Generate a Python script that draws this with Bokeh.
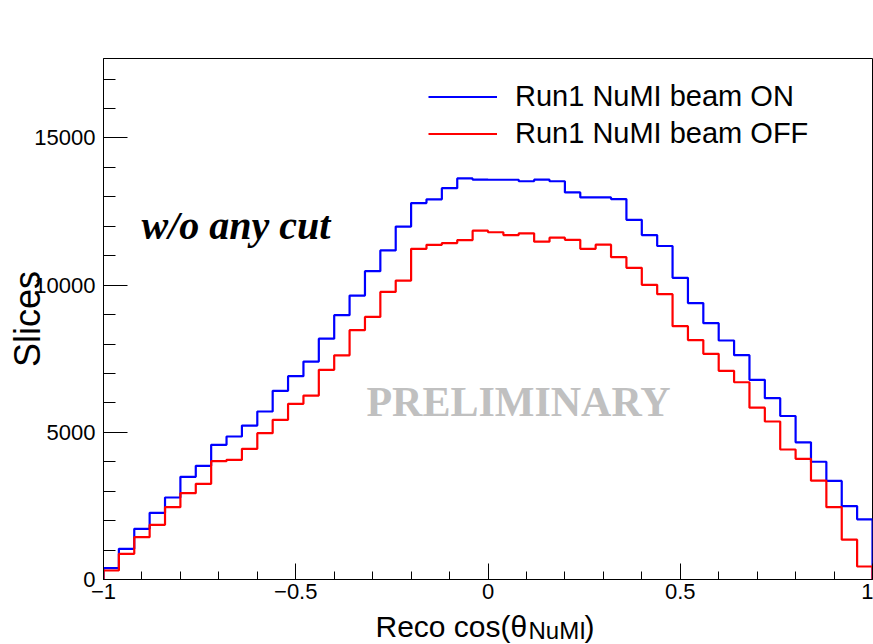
import numpy as np
from bokeh.plotting import figure
from bokeh.layouts import column
from bokeh.models import FixedTicker, Label, Legend, LegendItem, Range1d
from bokeh.core.properties import value
from bokeh.embed import file_html
from bokeh.resources import INLINE

# ---- data -------------------------------------------------------------
x_min, x_max, n_bins = -1.0, 1.0, 50

beam_on = [384, 1042, 1722, 2265, 2786, 3488, 3862, 4575, 4858, 5231,
           5707, 6410, 6906, 7405, 8180, 8980, 9647, 10475, 11180, 11991,
           12790, 12915, 13293, 13627, 13585, 13580, 13580, 13530, 13585, 13530,
           13150, 12980, 12980, 12925, 12219, 11700, 11330, 10249, 9390, 8707,
           8119, 7620, 6784, 6159, 5555, 4660, 4000, 3350, 2495, 2043]

beam_off = [306, 872, 1437, 1857, 2457, 2933, 3250, 4019, 4066, 4440,
            4970, 5425, 5968, 6250, 7124, 7615, 8470, 8920, 9770, 10157,
            11233, 11370, 11430, 11530, 11850, 11798, 11700, 11760, 11477, 11612,
            11540, 11233, 11375, 10949, 10588, 10011, 9695, 8605, 8135, 7667,
            7090, 6702, 5838, 5367, 4416, 4100, 3357, 2457, 1354, 442]

series_labels = ["Run1 NuMI beam ON", "Run1 NuMI beam OFF"]
x_ticks = [-1.0, -0.5, 0.0, 0.5, 1.0]
x_tick_labels = ["\u22121", "\u22120.5", "0", "0.5", "1"]
x_minor = [-0.9, -0.8, -0.7, -0.6, -0.4, -0.3, -0.2, -0.1,
           0.1, 0.2, 0.3, 0.4, 0.6, 0.7, 0.8, 0.9]
y_ticks = [0, 5000, 10000, 15000]
y_minor = [1000, 2000, 3000, 4000, 6000, 7000, 8000, 9000,
           11000, 12000, 13000, 14000, 16000, 17000]
y_max = 17700
x_title_parts = ["Reco cos(\u03b8", "NuMI", ")"]
y_title = "Slices"

edges = np.linspace(x_min, x_max, n_bins + 1)


def stairs(values):
    xs = [edges[0]]
    ys = [0]
    for i, v in enumerate(values):
        xs += [edges[i], edges[i + 1]]
        ys += [v, v]
    xs.append(edges[-1])
    ys.append(0)
    return xs, ys


FONT = "Liberation Sans"
LEFT, TOP, FW, FH = 103, 58, 769, 521
BOTTOM_MAIN = 29
W, H = 873, 644

p = figure(frame_width=FW, frame_height=FH,
           min_border_left=LEFT, min_border_right=W - LEFT - FW,
           min_border_top=TOP, min_border_bottom=BOTTOM_MAIN,
           x_range=Range1d(x_min, x_max), y_range=Range1d(0, y_max),
           output_backend="svg", toolbar_location=None)

p.background_fill_color = "white"
p.border_fill_color = "white"
p.outline_line_color = "black"
p.outline_line_width = 1
p.xgrid.visible = False
p.ygrid.visible = False

# axes
p.xaxis.ticker = FixedTicker(ticks=x_ticks, minor_ticks=x_minor)
p.xaxis.major_label_overrides = dict(zip(x_ticks, x_tick_labels))
p.yaxis.ticker = FixedTicker(ticks=y_ticks, minor_ticks=y_minor)
for ax in (p.xaxis[0], p.yaxis[0]):
    ax.axis_line_color = "black"
    ax.major_tick_line_color = "black"
    ax.minor_tick_line_color = "black"
    ax.major_tick_out = 0
    ax.minor_tick_out = 0
    ax.major_label_text_font = FONT
    ax.major_label_text_color = "black"
p.xaxis.axis_label = None
p.xaxis.major_tick_in = 16
p.xaxis.minor_tick_in = 8
p.yaxis.major_tick_in = 24
p.yaxis.minor_tick_in = 12
p.xaxis.major_label_text_font_size = "22px"
p.yaxis.major_label_text_font_size = "22px"
p.xaxis.major_label_standoff = 4
p.yaxis.major_label_standoff = 8

p.yaxis.axis_label = y_title
p.yaxis.axis_label_text_font = FONT
p.yaxis.axis_label_text_font_style = "normal"
p.yaxis.axis_label_text_font_size = "36px"
p.yaxis.axis_label_text_color = "black"
p.yaxis.axis_label_standoff = -17

# histograms
xs_on, ys_on = stairs(beam_on)
xs_off, ys_off = stairs(beam_off)
r_on = p.line(xs_on, ys_on, line_color="#0000ff", line_width=2.2)
r_off = p.line(xs_off, ys_off, line_color="#ff0000", line_width=2.2)

legend = Legend(items=[LegendItem(label=series_labels[0], renderers=[r_on]),
                       LegendItem(label=series_labels[1], renderers=[r_off])],
                location=(325, 427), orientation="vertical",
                glyph_width=69, glyph_height=37, label_height=37,
                label_standoff=18, spacing=0, padding=0, margin=0,
                border_line_color=None, background_fill_alpha=0,
                label_text_font=FONT, label_text_font_size="29px",
                label_text_color="black")
p.add_layout(legend, "center")


def px2x(px):
    return (px - LEFT) / FW * (x_max - x_min) + x_min


def py2y(py):
    return (TOP + FH - py) / FH * y_max


p.add_layout(Label(x=px2x(141), y=py2y(225), text="w/o any cut",
                   text_font="Liberation Serif", text_font_style="bold italic",
                   text_font_size="40px", text_color="black",
                   text_align="left", text_baseline="middle"))
p.add_layout(Label(x=px2x(518), y=py2y(401), text="PRELIMINARY",
                   text_font="Liberation Serif", text_font_style="bold",
                   text_font_size="42px", text_color="#c0c0c0",
                   text_align="center", text_baseline="middle"))

# strip below the main figure holding the x-axis title (with subscript)
STRIP_TOP = TOP + FH + BOTTOM_MAIN
STRIP_H = H - STRIP_TOP
q = figure(frame_width=FW, frame_height=STRIP_H,
           min_border_left=LEFT, min_border_right=W - LEFT - FW,
           min_border_top=0, min_border_bottom=0,
           x_range=Range1d(x_min, x_max), y_range=Range1d(STRIP_H, 0),
           x_axis_type=None, y_axis_type=None,
           output_backend="svg", toolbar_location=None)
q.outline_line_color = None
q.background_fill_color = "white"
q.border_fill_color = "white"
q.xgrid.visible = False
q.ygrid.visible = False

title_x = [px2x(375), px2x(528), px2x(584)]
title_y = [625.5 - STRIP_TOP, 630 - STRIP_TOP, 625.5 - STRIP_TOP]
title_size = ["30px", "24px", "30px"]
for t, tx, ty, ts in zip(x_title_parts, title_x, title_y, title_size):
    q.text(x=[tx], y=[ty], text=[t], text_font=value(FONT),
           text_font_size=value(ts), text_color="black",
           text_align="left", text_baseline="middle")

layout = column(p, q, spacing=0)
open("out.html", "w").write(file_html(layout, INLINE))
